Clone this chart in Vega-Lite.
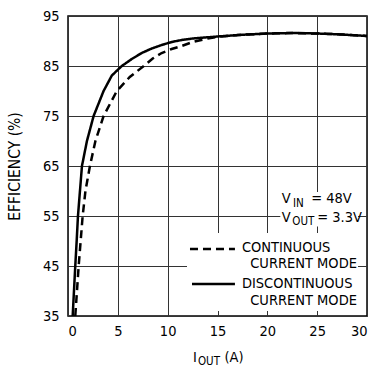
{
  "$schema": "https://vega.github.io/schema/vega-lite/v6.json",
  "width": 299,
  "height": 300,
  "autosize": "none",
  "padding": {"left": 68, "top": 16, "right": 7, "bottom": 53},
  "background": "white",
  "config": {
    "view": {"stroke": "black", "strokeWidth": 1.5},
    "font": "DejaVu Sans Condensed, Liberation Sans, sans-serif",
    "axis": {
      "gridColor": "#333",
      "gridOpacity": 1,
      "gridWidth": 1,
      "domain": false,
      "ticks": false,
      "labelFont": "DejaVu Sans Condensed, Liberation Sans, sans-serif",
      "labelFontSize": 14.5,
      "labelColor": "black",
      "titleFont": "DejaVu Sans Condensed, Liberation Sans, sans-serif",
      "titleColor": "black",
      "titleFontWeight": "normal"
    }
  },
  "datasets": {
    "curves": [
      {"iout": 0.47, "eff": 35, "mode": "DISCONTINUOUS"},
      {"iout": 0.6, "eff": 40, "mode": "DISCONTINUOUS"},
      {"iout": 0.73, "eff": 45, "mode": "DISCONTINUOUS"},
      {"iout": 0.87, "eff": 50, "mode": "DISCONTINUOUS"},
      {"iout": 1.0, "eff": 55, "mode": "DISCONTINUOUS"},
      {"iout": 1.2, "eff": 60, "mode": "DISCONTINUOUS"},
      {"iout": 1.4, "eff": 65, "mode": "DISCONTINUOUS"},
      {"iout": 1.9, "eff": 70, "mode": "DISCONTINUOUS"},
      {"iout": 2.57, "eff": 75, "mode": "DISCONTINUOUS"},
      {"iout": 3.57, "eff": 80, "mode": "DISCONTINUOUS"},
      {"iout": 4.4, "eff": 83.1, "mode": "DISCONTINUOUS"},
      {"iout": 5.4, "eff": 85, "mode": "DISCONTINUOUS"},
      {"iout": 6.4, "eff": 86.4, "mode": "DISCONTINUOUS"},
      {"iout": 7.4, "eff": 87.6, "mode": "DISCONTINUOUS"},
      {"iout": 8.4, "eff": 88.5, "mode": "DISCONTINUOUS"},
      {"iout": 9.4, "eff": 89.2, "mode": "DISCONTINUOUS"},
      {"iout": 10.4, "eff": 89.8, "mode": "DISCONTINUOUS"},
      {"iout": 11.4, "eff": 90.2, "mode": "DISCONTINUOUS"},
      {"iout": 12.5, "eff": 90.5, "mode": "DISCONTINUOUS"},
      {"iout": 15, "eff": 90.9, "mode": "DISCONTINUOUS"},
      {"iout": 17.5, "eff": 91.25, "mode": "DISCONTINUOUS"},
      {"iout": 20, "eff": 91.5, "mode": "DISCONTINUOUS"},
      {"iout": 22.5, "eff": 91.6, "mode": "DISCONTINUOUS"},
      {"iout": 25, "eff": 91.5, "mode": "DISCONTINUOUS"},
      {"iout": 27.5, "eff": 91.3, "mode": "DISCONTINUOUS"},
      {"iout": 30, "eff": 91.0, "mode": "DISCONTINUOUS"},
      {"iout": 0.73, "eff": 35, "mode": "CONTINUOUS"},
      {"iout": 0.9, "eff": 40, "mode": "CONTINUOUS"},
      {"iout": 1.07, "eff": 45, "mode": "CONTINUOUS"},
      {"iout": 1.27, "eff": 50, "mode": "CONTINUOUS"},
      {"iout": 1.47, "eff": 55, "mode": "CONTINUOUS"},
      {"iout": 1.75, "eff": 60, "mode": "CONTINUOUS"},
      {"iout": 2.2, "eff": 65, "mode": "CONTINUOUS"},
      {"iout": 2.75, "eff": 70, "mode": "CONTINUOUS"},
      {"iout": 3.57, "eff": 75, "mode": "CONTINUOUS"},
      {"iout": 4.9, "eff": 80, "mode": "CONTINUOUS"},
      {"iout": 6.2, "eff": 82.8, "mode": "CONTINUOUS"},
      {"iout": 7.6, "eff": 85, "mode": "CONTINUOUS"},
      {"iout": 8.5, "eff": 86.5, "mode": "CONTINUOUS"},
      {"iout": 9.4, "eff": 87.6, "mode": "CONTINUOUS"},
      {"iout": 10.4, "eff": 88.4, "mode": "CONTINUOUS"},
      {"iout": 11.4, "eff": 89.0, "mode": "CONTINUOUS"},
      {"iout": 12.5, "eff": 89.8, "mode": "CONTINUOUS"},
      {"iout": 14, "eff": 90.5, "mode": "CONTINUOUS"},
      {"iout": 15, "eff": 90.85, "mode": "CONTINUOUS"},
      {"iout": 17.5, "eff": 91.25, "mode": "CONTINUOUS"},
      {"iout": 20, "eff": 91.5, "mode": "CONTINUOUS"},
      {"iout": 22.5, "eff": 91.6, "mode": "CONTINUOUS"},
      {"iout": 25, "eff": 91.5, "mode": "CONTINUOUS"},
      {"iout": 27.5, "eff": 91.3, "mode": "CONTINUOUS"},
      {"iout": 30, "eff": 91.0, "mode": "CONTINUOUS"}
    ],
    "boxes": [
      {"x1": 21.3, "x2": 29.1, "y1": 52.9, "y2": 59.8},
      {"x1": 11.94, "x2": 29.1, "y1": 36.0, "y2": 51.6}
    ],
    "keys": [
      {"x1": 12.24, "x2": 16.75, "y": 48.4, "mode": "CONTINUOUS"},
      {"x1": 12.44, "x2": 16.75, "y": 41.4, "mode": "DISCONTINUOUS"}
    ],
    "mainText": [
      {"label": "I", "x": 12.54, "y": 25.8},
      {"label": "(A)", "x": 15.7, "y": 25.8},
      {"label": "V", "x": 21.45, "y": 57.54},
      {"label": "= 48V", "x": 24.4, "y": 57.54},
      {"label": "V", "x": 21.45, "y": 53.86},
      {"label": "= 3.3V", "x": 25.0, "y": 53.86},
      {"label": "CONTINUOUS", "x": 17.45, "y": 47.8},
      {"label": "DISCONTINUOUS", "x": 17.45, "y": 40.6}
    ],
    "subText": [
      {"label": "OUT", "x": 13.04, "y": 25.2},
      {"label": "IN", "x": 22.57, "y": 56.86},
      {"label": "OUT", "x": 22.5, "y": 53.2}
    ],
    "rightText": [
      {"label": "CURRENT MODE", "x": 28.99, "y": 44.6},
      {"label": "CURRENT MODE", "x": 28.99, "y": 37.2}
    ]
  },
  "encoding": {
    "x": {"type": "quantitative"},
    "y": {"type": "quantitative"}
  },
  "layer": [
    {
      "data": {"name": "curves"},
      "mark": {"type": "line", "color": "black", "strokeWidth": 2.5, "clip": true},
      "encoding": {
        "x": {"field": "iout", "type": "quantitative",
          "scale": {"domain": [0, 30], "nice": false, "zero": false},
          "axis": {"values": [0, 5, 10, 15, 20, 25, 30], "title": null, "labelPadding": 8}},
        "y": {"field": "eff", "type": "quantitative",
          "scale": {"domain": [35, 95], "nice": false, "zero": false},
          "axis": {"values": [35, 45, 55, 65, 75, 85, 95], "title": "EFFICIENCY (%)",
            "titleFontSize": 15.5, "titleX": -46, "titleY": 150, "titleBaseline": "bottom", "labelPadding": 9}},
        "strokeDash": {"field": "mode", "type": "nominal",
          "scale": {"domain": ["CONTINUOUS", "DISCONTINUOUS"], "range": [[8, 5], [1, 0]]},
          "legend": null},
        "detail": {"field": "mode"}
      }
    },
    {
      "data": {"name": "boxes"},
      "mark": {"type": "rect", "fill": "white"},
      "encoding": {
        "x": {"field": "x1", "type": "quantitative"},
        "x2": {"field": "x2"},
        "y": {"field": "y1", "type": "quantitative"},
        "y2": {"field": "y2"}
      }
    },
    {
      "data": {"name": "keys"},
      "mark": {"type": "rule", "color": "black", "strokeWidth": 2.5},
      "encoding": {
        "x": {"field": "x1", "type": "quantitative"},
        "x2": {"field": "x2"},
        "y": {"field": "y", "type": "quantitative"},
        "strokeDash": {"field": "mode", "type": "nominal", "legend": null}
      }
    },
    {
      "data": {"name": "mainText"},
      "mark": {"type": "text", "align": "left", "baseline": "alphabetic", "fontSize": 14.5, "color": "black", "font": "DejaVu Sans Condensed, Liberation Sans, sans-serif"},
      "encoding": {
        "x": {"field": "x", "type": "quantitative"},
        "y": {"field": "y", "type": "quantitative"},
        "text": {"field": "label"}
      }
    },
    {
      "data": {"name": "subText"},
      "mark": {"type": "text", "align": "left", "baseline": "alphabetic", "fontSize": 11.5, "color": "black", "font": "DejaVu Sans Condensed, Liberation Sans, sans-serif"},
      "encoding": {
        "x": {"field": "x", "type": "quantitative"},
        "y": {"field": "y", "type": "quantitative"},
        "text": {"field": "label"}
      }
    },
    {
      "data": {"name": "rightText"},
      "mark": {"type": "text", "align": "right", "baseline": "alphabetic", "fontSize": 14.5, "color": "black", "font": "DejaVu Sans Condensed, Liberation Sans, sans-serif"},
      "encoding": {
        "x": {"field": "x", "type": "quantitative"},
        "y": {"field": "y", "type": "quantitative"},
        "text": {"field": "label"}
      }
    }
  ]
}
